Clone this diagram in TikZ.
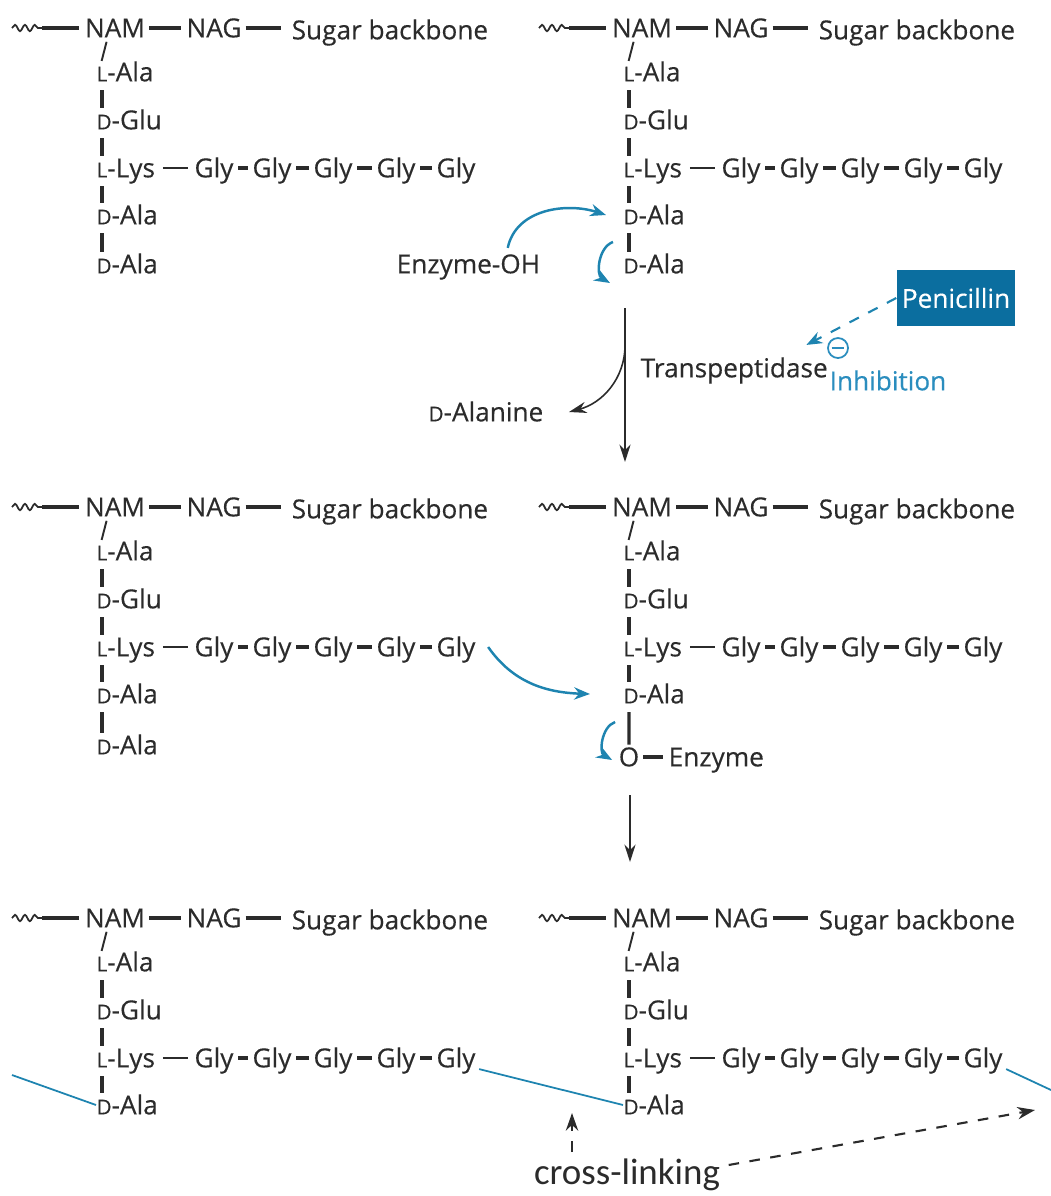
\documentclass[tikz,border=0pt]{standalone}
\usepackage{fontspec}
\setmainfont{Open Sans}[FakeBold=0.35]
\newfontfamily\clfont{Carlito}
\usetikzlibrary{arrows.meta,decorations.pathmorphing}

\definecolor{ink}{HTML}{2B2B2B}
\definecolor{arrblue}{HTML}{1E84B0}
\definecolor{penblue}{HTML}{0B6E9F}
\definecolor{inhblue}{HTML}{2A8DBE}

\newcommand{\smL}{{\fontsize{5.8}{6}\selectfont L}}
\newcommand{\smD}{{\fontsize{5.8}{6}\selectfont D}}

\tikzset{
  resid/.style={inner sep=0pt, text height=5.6pt, text depth=0.3pt,
    font=\fontsize{7.45}{9}\selectfont, text=ink},
  lresid/.style={resid, anchor=west},
  bond/.style={draw=ink, line width=0.9pt, shorten <=1pt, shorten >=1.5pt},
  vbond/.style={draw=ink, line width=0.9pt, shorten <=2pt, shorten >=0.4pt},
  gdash/.style={draw=ink, line width=1.1pt, shorten <=1.2pt, shorten >=1.2pt},
  wavy/.style={draw=ink, line width=0.5pt, decorate,
    decoration={snake, amplitude=0.9pt, segment length=2.8pt}},
  rxn/.style={draw=ink, line width=0.45pt, -{Stealth[length=5pt,width=3.2pt]}},
  bluearr/.style={draw=arrblue, line width=0.7pt, -{Stealth[length=4.5pt,width=3.5pt]}},
  xlink/.style={draw=arrblue, line width=0.5pt},
  dasharr/.style={draw=ink, dashed, line width=0.6pt, -{Stealth[length=5pt,width=3.5pt]}}
}

% one NAM-NAG unit with its stem peptide, #1 = name prefix, (#2,#3) = NAM
\newcommand{\pgunit}[3]{%
  \begin{scope}[shift={(#2,#3)}]
    \coordinate (#1w0) at (-103,0);
    \coordinate (#1w1) at (-73,0);
    \node[resid] (#1nam) at (0,0) {NAM};
    \node[resid] (#1nag) at (99,0) {NAG};
    \coordinate (#1end) at (166,0);
    \node[lresid] (#1sb) at (176,-2) {Sugar backbone};
    \node[lresid] (#1ala) at (-19,-44) {\smL-Ala};
    \node[lresid] (#1glu) at (-19,-92) {\smD-Glu};
    \node[lresid] (#1lys) at (-19,-140) {\smL-Lys};
    \node[lresid] (#1dala) at (-19,-187) {\smD-Ala};
    \foreach \g/\x in {1/99,2/157,3/218,4/281,5/341}
      \node[resid] (#1g\g) at (\x,-140) {Gly};
  \end{scope}
  \draw[wavy] (#1w0) -- (#1w1);
  \draw[bond, shorten <=0pt] (#1w1) -- (#1nam.west);
  \draw[bond] (#1nam.east) -- (#1nag.west);
  \draw[bond, shorten >=0pt] (#1nag.east) -- (#1end);
  \draw[ink, line width=0.55pt, shorten <=0.8pt] ([xshift=-2.2pt]#1nam.south) -- ([xshift=1.6pt]#1ala.north west);
  \draw[vbond] ([xshift=1.7pt]#1ala.south west) -- ([xshift=1.7pt]#1glu.north west);
  \draw[vbond] ([xshift=1.7pt]#1glu.south west) -- ([xshift=1.7pt]#1lys.north west);
  \draw[vbond] ([xshift=1.7pt]#1lys.south west) -- ([xshift=1.7pt]#1dala.north west);
  \draw[ink, line width=0.6pt, shorten <=2pt, shorten >=1.6pt] (#1lys.east) -- (#1g1.west);
  \foreach \a/\b in {1/2,2/3,3/4,4/5}
    \draw[gdash] (#1g\a.east) -- (#1g\b.west);
}

\begin{document}
\begin{tikzpicture}[x=0.01cm, y=0.01cm]
  \useasboundingbox (0,0) rectangle (1051,-1196);

  \pgunit{tl}{115}{-28}
  \pgunit{tr}{642}{-28}
  \pgunit{ml}{115}{-507}
  \pgunit{mr}{642}{-507}
  \pgunit{bl}{115}{-918}
  \pgunit{br}{642}{-918}

  % terminal D-Ala
  \foreach \u/\x/\y in {tl/96/-264,tr/623/-264,ml/96/-745} {
    \node[lresid] (\u dala2) at (\x,\y) {\smD-Ala};
    \draw[vbond] ([xshift=1.7pt]\u dala.south west) -- ([xshift=1.7pt]\u dala2.north west);
  }

  % enzyme attack
  \node[lresid] (enzoh) at (396,-264) {Enzyme-OH};
  \draw[bluearr] ([xshift=-0.33cm,yshift=0.05cm]enzoh.north east) to[out=78,in=162] ([xshift=-0.17cm]trdala.west);
  \draw[bluearr] ([shift={(-0.1cm,0.22cm)}]trdala2.west) to[out=200,in=150] ([shift={(-0.13cm,-0.19cm)}]trdala2.west);

  % first step
  \coordinate (r1a) at (625,-308);
  \coordinate (r1m) at (625,-345);
  \coordinate (r1b) at (625,-462);
  \draw[rxn] (r1a) -- (r1b);
  \node[lresid] (dalan) at (428,-412) {\smD-Alanine};
  \draw[rxn] (r1m) to[out=-90,in=15] ([xshift=0.25cm]dalan.east);
  \node[lresid] (tp) at (640,-368) {Transpeptidase};
  \node[fill=penblue, text=white, font=\fontsize{7.45}{9}\selectfont,
    minimum width=1.18cm, minimum height=0.56cm, inner sep=0pt] (pen) at (956,-298) {Penicillin};
  \draw[bluearr, dashed, line width=0.6pt] (pen.west) -- ([shift={(-0.22cm,0.12cm)}]tp.north east);
  \node[circle, draw=inhblue, line width=0.5pt, minimum size=0.2cm, inner sep=0pt] (inh) at (838,-348) {};
  \draw[inhblue, line width=0.6pt] ([xshift=-1.8pt]inh.center) -- ([xshift=1.8pt]inh.center);
  \node[lresid, text=inhblue] (inhtxt) at (829,-381) {Inhibition};

  % acyl-enzyme
  \node[resid] (mro) at (629,-757) {O};
  \node[lresid] (mrenz) at (668,-757) {Enzyme};
  \draw[vbond] ([xshift=1.7pt]mrdala.south west) -- (mro.north);
  \draw[bond] (mro.east) -- (mrenz.west);
  \draw[bluearr] ([xshift=0.12cm]mlg5.east) to[out=-55,in=178] ([xshift=-0.33cm]mrdala.west);
  \draw[bluearr] ([shift={(-0.03cm,0.35cm)}]mro.west) to[out=200,in=150] ([shift={(-0.06cm,-0.03cm)}]mro.west);

  % second step
  \coordinate (r2a) at (630,-795);
  \coordinate (r2b) at (630,-862);
  \draw[rxn] (r2a) -- (r2b);

  % cross-links
  \coordinate (xl0) at (12,-1075);
  \coordinate (xl1) at (1051,-1090);
  \draw[xlink] (xl0) -- (bldala.west);
  \draw[xlink] ([xshift=0.03cm]blg5.south east) -- (brdala.west);
  \draw[xlink] ([xshift=0.03cm]brg5.south east) -- (xl1);

  \node[inner sep=0pt, text=ink, font=\clfont\fontsize{10.5}{12}\selectfont] (cl) at (627,-1175) {cross-linking};
  \coordinate (cldn) at (572,-1152);
  \coordinate (clup) at (572,-1113);
  \coordinate (clr) at (1035,-1110);
  \draw[dasharr] (cldn) -- (clup);
  \draw[dasharr] ([shift={(0.08cm,0.1cm)}]cl.east) -- (clr);
\end{tikzpicture}
\end{document}
